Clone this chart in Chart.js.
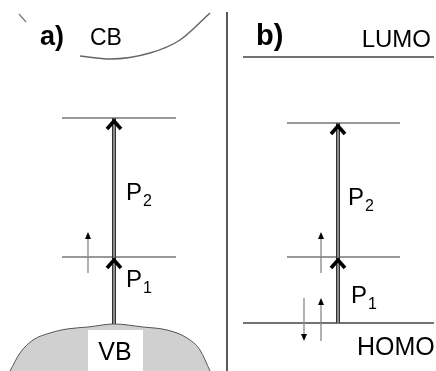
<!DOCTYPE html>
<html><head><meta charset="utf-8">
<script src="https://cdn.jsdelivr.net/npm/chart.js@4/dist/chart.umd.min.js"></script>
<style>html,body{margin:0;padding:0;background:#fff;overflow:hidden}#wrap{width:436px;height:371px}</style>
</head><body><div id="wrap"><canvas id="c" width="436" height="371"></canvas></div>
<script>
// ---- energy levels (x extent and level value) ----
const levelX0 = [62, 62, 287, 287, 243, 243];
const levelX1 = [176, 176, 400, 400, 434, 434];
const levelY  = [118, 257, 123, 257, 57, 323];
const levelW  = [1, 1, 1, 1, 1.5, 1.5];
// ---- conduction band edge (panel a) ----
const cbX = [80, 110, 150, 180, 210];
const cbY = [56, 59, 53, 40, 13];
const cbTickX = [19, 26];
const cbTickY = [14, 22];
// ---- valence band dome (panel a) ----
const vbX = [10, 20, 33, 50, 67, 88, 114, 143, 167, 187, 200, 210];
const vbY = [371, 353, 340, 333, 329, 327, 324, 327, 330, 338, 350, 371];
// ---- divider ----
const divX = [227, 227];
const divY = [12, 371];
// ---- transitions (P1 then P2) ----
const transX = [114, 338];
const transFrom = [324, 323];
const transTo = [118, 123];
const transHeadP1 = [257, 257];
const transHeadP2 = [118, 123];
// ---- spins ----
const spinX = [88, 321, 321, 304];
const spinFrom = [273, 273, 341, 298];
const spinTo = [232, 232, 298, 341];
// ---- text labels ----
const textLabels = ['a)', 'CB', 'VB', 'b)', 'LUMO', 'HOMO'];
const textX = [40, 90, 115, 256, 431, 357];
const textY = [45, 45, 360, 45, 47, 355];
const textSize = [27, 23, 25, 29, 24, 25];
const textBold = [true, false, false, true, false, false];
const textAlign = ['left', 'left', 'center', 'left', 'right', 'left'];
// ---- P labels ----
const pSub = ['2', '1', '2', '1'];
const pX = [126, 126, 348, 351];
const pY = [200, 287, 205, 303];

const FONT = '"Liberation Sans", Arial, sans-serif';

const datasets = [];
for (let i = 0; i < levelY.length; i++) {
  datasets.push({data: [{x: levelX0[i], y: levelY[i]}, {x: levelX1[i], y: levelY[i]}],
    showLine: true, pointRadius: 0, borderColor: i >= 4 ? '#444' : '#333', borderWidth: levelW[i], order: 5});
}
datasets.push({data: cbX.map((x, i) => ({x, y: cbY[i]})), showLine: true, pointRadius: 0,
  borderColor: '#666', borderWidth: 1.5, cubicInterpolationMode: 'monotone', order: 5});
datasets.push({data: cbTickX.map((x, i) => ({x, y: cbTickY[i]})), showLine: true, pointRadius: 0,
  borderColor: '#777', borderWidth: 1.2, order: 5});
datasets.push({data: vbX.map((x, i) => ({x, y: vbY[i]})), showLine: true, pointRadius: 0,
  borderColor: '#555', borderWidth: 1, cubicInterpolationMode: 'monotone', fill: {value: 371}, backgroundColor: '#d0d0d0', order: 10});
datasets.push({data: divX.map((x, i) => ({x, y: divY[i]})), showLine: true, pointRadius: 0,
  borderColor: '#444', borderWidth: 1, order: 5});
for (let i = 0; i < transX.length; i++) {
  datasets.push({data: [{x: transX[i], y: transFrom[i]}, {x: transX[i], y: transTo[i]}], showLine: true,
    pointRadius: 0, borderColor: '#333', borderWidth: 4, order: 3});
  datasets.push({data: [{x: transX[i], y: transFrom[i]}, {x: transX[i], y: transTo[i]}], showLine: true,
    pointRadius: 0, borderColor: '#bbb', borderWidth: 1.3, order: 2});
}

const decor = {
  id: 'decor',
  afterDatasetsDraw(chart) {
    const ctx = chart.ctx, xs = chart.scales.x, ys = chart.scales.y;
    ctx.save();
    // white box behind VB
    ctx.fillStyle = '#fff';
    const bx0 = xs.getPixelForValue(88), bx1 = xs.getPixelForValue(143);
    const by0 = ys.getPixelForValue(330), by1 = ys.getPixelForValue(371);
    ctx.fillRect(bx0, by0, bx1 - bx0, by1 - by0);
    // chevron heads
    ctx.strokeStyle = '#000'; ctx.lineWidth = 3.6; ctx.lineJoin = 'miter'; ctx.lineCap = 'butt';
    const heads = [];
    transX.forEach((x, i) => { heads.push([x, transHeadP1[i]]); heads.push([x, transHeadP2[i]]); });
    heads.forEach(([x, y]) => {
      const px = xs.getPixelForValue(x), py = ys.getPixelForValue(y);
      ctx.beginPath();
      ctx.moveTo(px - 7, py + 11); ctx.lineTo(px, py + 3); ctx.lineTo(px + 7, py + 11);
      ctx.stroke();
    });
    // spins
    spinX.forEach((x, i) => {
      const px = xs.getPixelForValue(x);
      const y0 = ys.getPixelForValue(spinFrom[i]), y1 = ys.getPixelForValue(spinTo[i]);
      const dir = y1 < y0 ? -1 : 1;
      ctx.strokeStyle = '#888'; ctx.lineWidth = 1.3;
      ctx.beginPath(); ctx.moveTo(px, y0); ctx.lineTo(px, y1 - dir * 5); ctx.stroke();
      ctx.fillStyle = '#000';
      ctx.beginPath(); ctx.moveTo(px, y1); ctx.lineTo(px - 3, y1 - dir * 7); ctx.lineTo(px + 3, y1 - dir * 7);
      ctx.closePath(); ctx.fill();
    });
    // texts
    ctx.fillStyle = '#000'; ctx.textBaseline = 'alphabetic';
    textLabels.forEach((t, i) => {
      ctx.font = (textBold[i] ? 'bold ' : '') + textSize[i] + 'px ' + FONT;
      ctx.textAlign = textAlign[i];
      ctx.fillText(t, xs.getPixelForValue(textX[i]), ys.getPixelForValue(textY[i]));
    });
    ctx.textAlign = 'left';
    pSub.forEach((s, i) => {
      const px = xs.getPixelForValue(pX[i]), py = ys.getPixelForValue(pY[i]);
      ctx.font = '24px ' + FONT;
      ctx.fillText('P', px, py);
      const w = ctx.measureText('P').width;
      ctx.font = '16px ' + FONT;
      ctx.fillText(s, px + w + 1, py + 6);
    });
    ctx.restore();
  }
};

new Chart(document.getElementById('c'), {
  type: 'scatter',
  data: {datasets},
  options: {
    responsive: false, animation: false, devicePixelRatio: 1,
    layout: {padding: 0},
    plugins: {legend: {display: false}, tooltip: {enabled: false}},
    scales: {
      x: {type: 'linear', min: 0, max: 436, display: false},
      y: {type: 'linear', min: 0, max: 371, reverse: true, display: false}
    }
  },
  plugins: [decor]
});
</script></body></html>
